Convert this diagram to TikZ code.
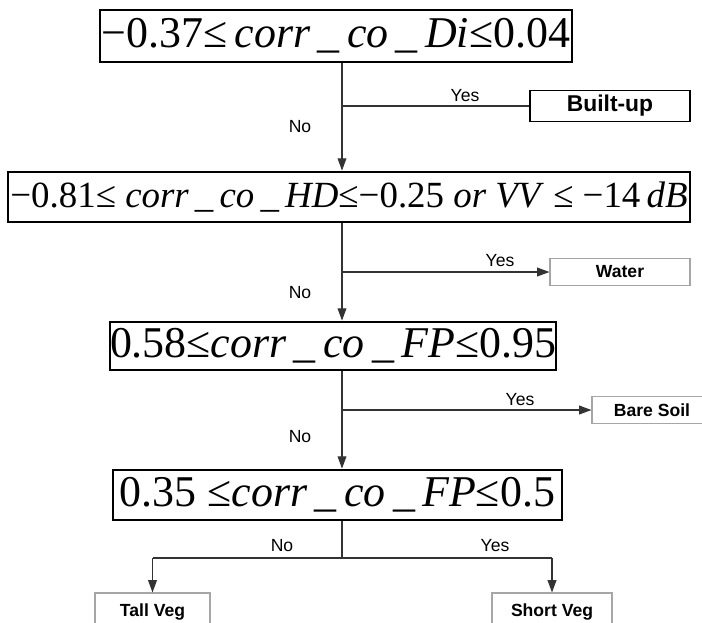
\documentclass[tikz,border=0pt]{standalone}
\usepackage{fontspec}
\setmainfont{Liberation Serif}
\newfontfamily\lblfont{Liberation Sans}
\usetikzlibrary{arrows.meta}

\tikzset{
  cond/.style={draw, line width=1.6pt, inner sep=0pt, font=\fontsize{25}{27}\selectfont},
  cls/.style={draw=gray!70, line width=0.6pt, inner sep=0pt, font=\lblfont\bfseries\fontsize{10}{12}\selectfont},
  lbl/.style={font=\lblfont\fontsize{10}{12}\selectfont, inner sep=1pt},
  link/.style={draw=black!80, line width=0.6pt},
  tip/.style={-{Triangle[length=7pt,width=5pt]}}
}

\begin{document}
\begin{tikzpicture}

\useasboundingbox (0,0) rectangle (14.04,-12.44);

% Conditions
\node[cond, minimum width=9.44cm, minimum height=1.04cm] (c1) at (6.72,-0.72)
{−0.37≤\,\textit{corr\,\_\,co\,\_\,Di}≤0.04};

\node[cond, minimum width=13.64cm, minimum height=1.0cm,
  font=\fontsize{21}{24}\selectfont] (c2) at (6.98,-3.94)
{−0.81≤ \textit{corr\,\_\,co\,\_\,HD}≤−0.25 \textit{or VV} ≤ −14\,\textit{dB}};

\node[cond, minimum width=8.8cm, minimum height=0.96cm] (c3) at (6.66,-6.92)
{0.58≤\textit{corr\,\_\,co\,\_\,FP}≤0.95};

\node[cond, minimum width=8.98cm, minimum height=1.0cm] (c4) at (6.75,-9.9)
{0.35 ≤\textit{corr\,\_\,co\,\_\,FP}≤0.5};

% Classes
\node[cls, draw=black, line width=1pt, minimum width=3.2cm, minimum height=0.62cm,
  font=\lblfont\bfseries\fontsize{13}{15}\selectfont] (bu) at (12.2,-2.12) {Built-up};
\node[cls, minimum width=2.8cm, minimum height=0.54cm] (wat) at (12.4,-5.44) {Water};
\node[cls, minimum width=2.4cm, minimum height=0.54cm] (soil) at (13.04,-8.2) {Bare Soil};
\node[cls, minimum width=2.3cm, minimum height=0.76cm] (tall) at (3.05,-12.24) {Tall Veg};
\node[cls, minimum width=2.4cm, minimum height=0.76cm] (short) at (11.04,-12.24) {Short Veg};

% Junctions
\coordinate (spine) at (6.84,0);
\coordinate (j1) at (spine |- bu.west);
\coordinate (j2) at (spine |- wat.west);
\coordinate (j3) at (spine |- soil.west);
\coordinate (j4) at (6.84,-11.16);
\coordinate (t4) at (tall.north |- j4);
\coordinate (s4) at (short.north |- j4);

% Connectors
\draw[link, tip] (spine |- c1.south) -- (spine |- c2.north);
\draw[link] (j1) -- (bu.west);
\draw[link, tip] (spine |- c2.south) -- (spine |- c3.north);
\draw[link, tip] (j2) -- (wat.west);
\draw[link, tip] (spine |- c3.south) -- (spine |- c4.north);
\draw[link, tip] (j3) -- (soil.west);
\draw[link] (spine |- c4.south) -- (j4);
\draw[link] (t4) -- (s4);
\draw[link, tip] (t4) -- (tall.north);
\draw[link, tip] (s4) -- (short.north);

% Labels
\node[lbl] (y1) at (9.3,-1.92) {Yes};
\node[lbl] (n1) at (6.0,-2.54) {No};
\node[lbl] (y2) at (10.0,-5.22) {Yes};
\node[lbl] (n2) at (6.0,-5.86) {No};
\node[lbl] (y3) at (10.4,-8.0) {Yes};
\node[lbl] (n3) at (6.0,-8.74) {No};
\node[lbl] (n4) at (5.64,-10.92) {No};
\node[lbl] (y4) at (9.9,-10.92) {Yes};

\end{tikzpicture}
\end{document}
